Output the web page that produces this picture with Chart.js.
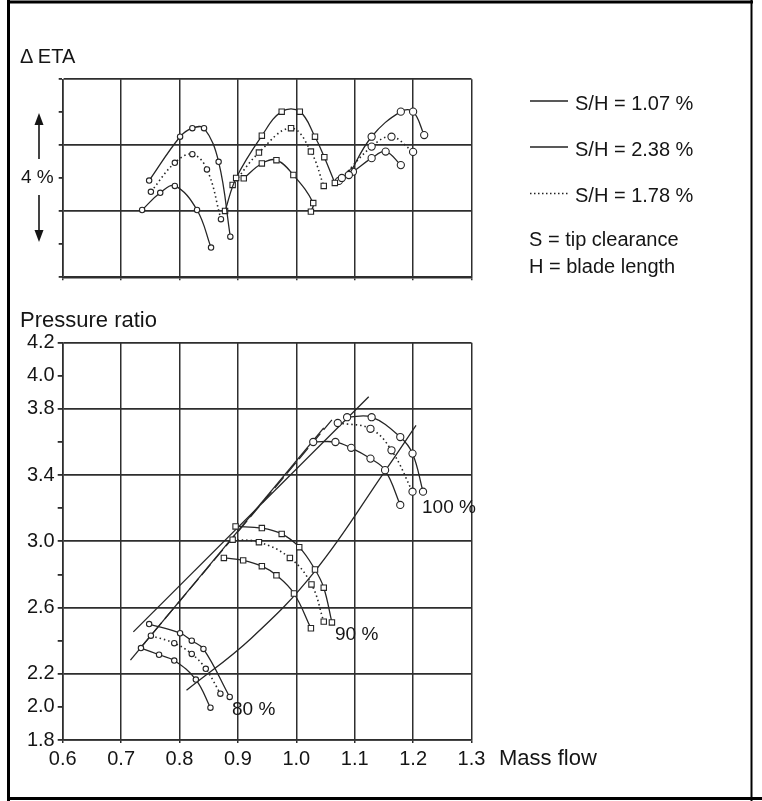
<!DOCTYPE html>
<html>
<head>
<meta charset="utf-8">
<script src="https://cdn.jsdelivr.net/npm/chart.js@4.4.1/dist/chart.umd.min.js"></script>
<style>
  html, body { margin: 0; padding: 0; background: #fff; }
  body { width: 762px; height: 801px; position: relative; overflow: hidden; }
  canvas { position: absolute; left: 0; }
  #eta-chart { top: 0; }
  #pr-chart { top: 300px; }
  #overlay { position: absolute; left: 0; top: 0; font-family: "Liberation Sans", Arial, sans-serif; fill: #151515; }
</style>
</head>
<body>
<canvas id="eta-chart" width="762" height="300"></canvas>
<canvas id="pr-chart" width="762" height="501"></canvas>
<svg id="overlay" width="762" height="801">
  <!-- frame -->
  <g stroke="#000" fill="none">
    <line x1="8.5" y1="0" x2="8.5" y2="801" stroke-width="3"/>
    <line x1="7" y1="2" x2="753" y2="2" stroke-width="3"/>
    <line x1="751.5" y1="0" x2="751.5" y2="801" stroke-width="2"/>
    <line x1="7" y1="798.5" x2="762" y2="798.5" stroke-width="3"/>
  </g>
  <text x="20" y="63" font-size="20">Δ ETA</text>
  <text x="21" y="183" font-size="19">4 %</text>
  <g stroke="#151515" stroke-width="1.6">
    <line x1="39" y1="123" x2="39" y2="159"/>
    <line x1="39" y1="195" x2="39" y2="232"/>
  </g>
  <polygon points="39,113 34.5,125 43.5,125" fill="#151515"/>
  <polygon points="39,242 34.5,230 43.5,230" fill="#151515"/>

  <!-- legend -->
  <g stroke="#222" stroke-width="1.4">
    <line x1="530" y1="101" x2="568" y2="101"/>
    <line x1="530" y1="147" x2="568" y2="147"/>
    <line x1="530" y1="193.5" x2="568" y2="193.5" stroke-dasharray="1.5,2.5"/>
  </g>
  <text x="575" y="110" font-size="20">S/H = 1.07 %</text>
  <text x="575" y="156" font-size="20">S/H = 2.38 %</text>
  <text x="575" y="202" font-size="20">S/H = 1.78 %</text>
  <text x="529" y="246" font-size="20">S = tip clearance</text>
  <text x="529" y="273" font-size="20">H = blade length</text>

  <text x="20" y="327" font-size="22">Pressure ratio</text>
  <text x="232" y="715" font-size="19">80 %</text>
  <text x="335" y="640" font-size="19">90 %</text>
  <text x="422" y="513" font-size="19">100 %</text>
  <text x="499" y="765" font-size="22">Mass flow</text>
</svg>
<script>
// axis ticks
const flowTicks = [0.6, 0.7, 0.8, 0.9, 1.0, 1.1, 1.2, 1.3];
const etaTicks = [0, 1, 2, 3, 4, 5, 6];
const etaGrid = [0, 2, 4, 6];
const prTicks = [1.8, 2.0, 2.2, 2.4, 2.6, 2.8, 3.0, 3.2, 3.4, 3.6, 3.8, 4.0, 4.2];
const prGrid = [1.8, 2.2, 2.6, 3.0, 3.4, 3.8, 4.2];
const prTickLabels = [1.8, 2.0, 2.2, 2.6, 3.0, 3.4, 3.8, 4.0, 4.2];

// Delta ETA (%), S/H = 1.07 %
const etaFlow107_80 = [0.748, 0.801, 0.822, 0.842, 0.867, 0.887];
const eta107_80 = [2.93, 4.26, 4.52, 4.52, 3.50, 1.23];
const etaFlow107_90 = [0.878, 0.897, 0.941, 0.975, 1.006, 1.032, 1.048, 1.066];
const eta107_90 = [2.01, 3.01, 4.29, 5.02, 5.02, 4.26, 3.64, 2.86];
const etaFlow107_100 = [1.090, 1.129, 1.179, 1.200, 1.219];
const eta107_100 = [3.10, 4.26, 5.02, 5.02, 4.31];

// Delta ETA, S/H = 1.78 %
const etaFlow178_80 = [0.751, 0.792, 0.822, 0.847, 0.871];
const eta178_80 = [2.59, 3.47, 3.73, 3.27, 1.76];
const etaFlow178_90 = [0.891, 0.936, 0.991, 1.025, 1.047];
const eta178_90 = [2.80, 3.78, 4.52, 3.81, 2.77];
const etaFlow178_100 = [1.078, 1.129, 1.163, 1.200];
const eta178_100 = [3.01, 3.96, 4.26, 3.80];

// Delta ETA, S/H = 2.38 %
const etaFlow238_80 = [0.736, 0.767, 0.792, 0.830, 0.854];
const eta238_80 = [2.04, 2.56, 2.77, 2.04, 0.90];
const etaFlow238_90 = [0.910, 0.941, 0.966, 0.995, 1.029, 1.025];
const eta238_90 = [3.00, 3.45, 3.55, 3.10, 2.25, 1.99];
const etaFlow238_100 = [1.073, 1.097, 1.129, 1.153, 1.179];
const eta238_100 = [2.92, 3.20, 3.61, 3.81, 3.40];

// Pressure ratio, S/H = 1.07 %
const prFlow107_80 = [0.748, 0.801, 0.821, 0.841, 0.886];
const pr107_80 = [2.50, 2.445, 2.40, 2.35, 2.06];
const prFlow107_90 = [0.896, 0.941, 0.975, 1.005, 1.032, 1.047, 1.061];
const pr107_90 = [3.09, 3.08, 3.045, 2.965, 2.83, 2.72, 2.51];
const prFlow107_100 = [1.087, 1.129, 1.178, 1.199, 1.217];
const pr107_100 = [3.75, 3.75, 3.63, 3.53, 3.30];

// Pressure ratio, S/H = 1.78 %
const prFlow178_80 = [0.751, 0.791, 0.821, 0.845, 0.870];
const pr178_80 = [2.43, 2.385, 2.32, 2.23, 2.08];
const prFlow178_90 = [0.891, 0.936, 0.989, 1.026, 1.047];
const pr178_90 = [3.01, 2.995, 2.90, 2.74, 2.515];
const prFlow178_100 = [1.071, 1.127, 1.163, 1.199];
const pr178_100 = [3.715, 3.68, 3.55, 3.30];

// Pressure ratio, S/H = 2.38 %
const prFlow238_80 = [0.734, 0.765, 0.791, 0.828, 0.853];
const pr238_80 = [2.355, 2.315, 2.28, 2.165, 1.995];
const prFlow238_90 = [0.876, 0.909, 0.941, 0.966, 0.996, 1.025];
const pr238_90 = [2.90, 2.885, 2.85, 2.795, 2.685, 2.475];
const prFlow238_100 = [1.029, 1.067, 1.094, 1.127, 1.152, 1.178];
const pr238_100 = [3.60, 3.60, 3.565, 3.50, 3.43, 3.22];

// surge lines and choke line
const surgeFlowA = [0.721, 1.124];
const surgeA = [2.453, 3.873];
const surgeFlowB = [0.733, 1.061];
const surgeB = [2.356, 3.734];
const surgeFlowC = [0.716, 1.047];
const surgeC = [2.283, 3.685];
const chokeFlow = [0.812, 0.923, 1.032, 1.153, 1.205];
const choke = [2.10, 2.415, 2.82, 3.43, 3.70];

const ink = "#262626";
const gridInk = "#2e2e2e";
const font = { family: "Liberation Sans", size: 20 };

function curve(xs, ys, style, marker, size) {
  return {
    data: xs.map((x, i) => ({ x: x, y: ys[i] })),
    showLine: true,
    tension: style === "straight" ? 0 : 0.4,
    borderColor: ink,
    borderWidth: style === "dot" ? 1.6 : 1.3,
    borderDash: style === "dot" ? [1.5, 3] : (style === "dash" ? [14, 5] : []),
    pointStyle: marker,
    pointRadius: size,
    pointBackgroundColor: "#fff",
    pointBorderColor: ink,
    pointBorderWidth: 1.1
  };
}

function fixedTicks(values) {
  return axis => { axis.ticks = values.map(v => ({ value: v })); };
}

const commonOpts = {
  responsive: false,
  animation: false,
  devicePixelRatio: 1,
  plugins: { legend: { display: false }, tooltip: { enabled: false } }
};

// Top chart: Delta ETA
new Chart(document.getElementById("eta-chart"), {
  type: "scatter",
  data: {
    datasets: [
      curve(etaFlow107_80, eta107_80, "solid", "circle", 2.7),
      curve(etaFlow178_80, eta178_80, "dot", "circle", 2.7),
      curve(etaFlow238_80, eta238_80, "solid", "circle", 2.7),
      curve(etaFlow107_90, eta107_90, "solid", "rect", 3.8),
      curve(etaFlow178_90, eta178_90, "dot", "rect", 3.8),
      curve(etaFlow238_90, eta238_90, "solid", "rect", 3.8),
      curve(etaFlow107_100, eta107_100, "solid", "circle", 3.6),
      curve(etaFlow178_100, eta178_100, "dot", "circle", 3.6),
      curve(etaFlow238_100, eta238_100, "solid", "circle", 3.6)
    ]
  },
  options: {
    ...commonOpts,
    layout: { padding: { top: 79.3, right: 290.5, left: 0, bottom: 0 } },
    scales: {
      x: {
        type: "linear", min: 0.6, max: 1.3,
        afterBuildTicks: fixedTicks(flowTicks),
        afterFit: axis => { axis.height = 22.7; },
        ticks: { display: false },
        grid: { color: gridInk, lineWidth: 1.5, tickLength: 3 },
        border: { color: gridInk, width: 1.6 }
      },
      y: {
        min: 0, max: 6,
        afterBuildTicks: fixedTicks(etaTicks),
        afterFit: axis => { axis.width = 62.7; },
        ticks: { display: false },
        grid: {
          color: ctx => etaGrid.includes(ctx.tick.value) ? gridInk : "rgba(0,0,0,0)",
          tickColor: gridInk,
          lineWidth: 1.8,
          tickLength: 4
        },
        border: { color: gridInk, width: 1.6 }
      }
    }
  }
});

// Bottom chart: pressure ratio
new Chart(document.getElementById("pr-chart"), {
  type: "scatter",
  data: {
    datasets: [
      curve(prFlow107_80, pr107_80, "solid", "circle", 2.7),
      curve(prFlow178_80, pr178_80, "dot", "circle", 2.7),
      curve(prFlow238_80, pr238_80, "solid", "circle", 2.7),
      curve(prFlow107_90, pr107_90, "solid", "rect", 3.8),
      curve(prFlow178_90, pr178_90, "dot", "rect", 3.8),
      curve(prFlow238_90, pr238_90, "solid", "rect", 3.8),
      curve(prFlow107_100, pr107_100, "solid", "circle", 3.6),
      curve(prFlow178_100, pr178_100, "dot", "circle", 3.6),
      curve(prFlow238_100, pr238_100, "solid", "circle", 3.6),
      curve(surgeFlowA, surgeA, "straight", "circle", 0),
      curve(surgeFlowB, surgeB, "dash", "circle", 0),
      curve(surgeFlowC, surgeC, "straight", "circle", 0),
      curve(chokeFlow, choke, "solid", "circle", 0)
    ]
  },
  options: {
    ...commonOpts,
    layout: { padding: { top: 42.7, right: 290.5, left: 0, bottom: 0 } },
    scales: {
      x: {
        type: "linear", min: 0.6, max: 1.3,
        afterBuildTicks: fixedTicks(flowTicks),
        afterFit: axis => { axis.height = 61; },
        ticks: { color: "#151515", font: font, padding: 4, maxRotation: 0, callback: v => v.toFixed(1) },
        grid: { color: gridInk, lineWidth: 1.5, tickLength: 3 },
        border: { color: gridInk, width: 1.6 }
      },
      y: {
        min: 1.8, max: 4.2,
        afterBuildTicks: fixedTicks(prTicks),
        afterFit: axis => { axis.width = 62.7; },
        ticks: {
          color: "#151515", font: font, padding: 3,
          callback: v => prTickLabels.includes(v) ? v.toFixed(1) : ""
        },
        grid: {
          color: ctx => prGrid.includes(ctx.tick.value) ? gridInk : "rgba(0,0,0,0)",
          tickColor: gridInk,
          lineWidth: 1.8,
          tickLength: 5
        },
        border: { color: gridInk, width: 1.6 }
      }
    }
  }
});
</script>
</body>
</html>
